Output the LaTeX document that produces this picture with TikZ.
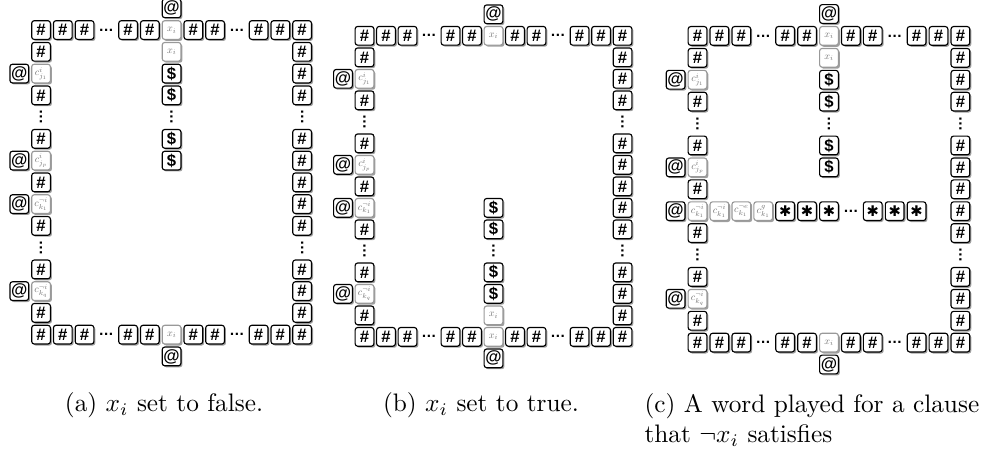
\documentclass[tikz,border=0pt]{standalone}
\usepackage{fontspec}
\newfontfamily\tilefont{Liberation Sans}
\newfontfamily\starfont{DejaVu Sans}
\usepackage{amsmath, amssymb}
\usepackage{tikz}
\usetikzlibrary{shadows, positioning}

\newcommand{\vlab}[1]{\scalebox{0.4}{$#1$}}

\tikzset{
  tile/.style={draw=black, line width=0.45pt, rounded corners=1pt, fill=white,
    minimum size=7.4pt, inner sep=0pt,
    font=\tilefont\bfseries\fontsize{6.6}{6.6}\selectfont,
    drop shadow={shadow xshift=0.6pt, shadow yshift=-0.6pt, opacity=1, fill=gray!75}},
  vartile/.style={tile, draw=gray!80, text=gray!90!black, font=\fontsize{10}{10}\selectfont},
  startile/.style={tile, font=\starfont\bfseries\fontsize{5.8}{5.8}\selectfont},
  hdots/.style={inner sep=0pt, font=\tilefont\bfseries\fontsize{6}{6}\selectfont},
  vdots/.style={hdots, rotate=90},
  subcap/.style={font=\fontsize{10}{12}\selectfont, inner sep=0pt}
}

% frame of one board: top and bottom rows, left and right columns
\newcommand{\drawring}[1]{%
  \foreach \rw/\nm in {1/top,15/bot}{
    \foreach \c in {1,2,3,5,6,8,9,11,12,13}
      \node[tile] (#1-\nm-\c) at (\c,\rw) {\#};
    \foreach \c in {4,10}
      \node[hdots] (#1-\nm-\c) at (\c,\rw) {…};
    \node[vartile] (#1-\nm-7) at (7,\rw) {\vlab{x_i}};
  }
  \node[tile] (#1-at-top) at (7,0) {@};
  \node[tile] (#1-at-bot) at (7,16) {@};
  \foreach \rw in {2,4,6,8,10,12,14}
    \node[tile] (#1-l-\rw) at (1,\rw) {\#};
  \foreach \rw in {2,3,4,6,7,8,9,10,12,13,14}
    \node[tile] (#1-r-\rw) at (13,\rw) {\#};
  \foreach \rw in {5,11}{
    \node[vdots] (#1-l-\rw) at (1,\rw) {…};
    \node[vdots] (#1-r-\rw) at (13,\rw) {…};
  }
  \foreach \rw in {3,7,9,13}
    \node[tile] (#1-at-\rw) at (0,\rw) {@};
  \node[vartile] (#1-l-3) at (1,3) {\vlab{c^{i}_{j_1}}};
  \node[vartile] (#1-l-7) at (1,7) {\vlab{c^{i}_{j_p}}};
  \node[vartile] (#1-l-9) at (1,9) {\vlab{c^{\neg i}_{k_1}}};
  \node[vartile] (#1-l-13) at (1,13) {\vlab{c^{\neg i}_{k_q}}};
}

\begin{document}
\begin{tikzpicture}[x=0.3953pt, y=-0.3953pt]
  \useasboundingbox (0,0) rectangle (983,455);

  % (a) false
  \begin{scope}[shift={(19.3,8.3)}, x=8.6pt, y=-8.6pt]
    \drawring{a}
    \node[vartile] (a-m-2) at (7,2) {\vlab{x_i}};
    \foreach \rw in {3,4,6,7}
      \node[tile] (a-m-\rw) at (7,\rw) {\$};
    \node[vdots] (a-m-5) at (7,5) {…};
  \end{scope}

  % (b) true
  \begin{scope}[shift={(343,14.3)}, x=8.5pt, y=-8.5pt]
    \drawring{b}
    \node[vartile] (b-m-14) at (7,14) {\vlab{x_i}};
    \foreach \rw in {9,10,12,13}
      \node[tile] (b-m-\rw) at (7,\rw) {\$};
    \node[vdots] (b-m-11) at (7,11) {…};
  \end{scope}

  % (c) word for a clause
  \begin{scope}[shift={(675.6,14)}, x=8.66pt, y=-8.66pt]
    \drawring{c}
    \node[vartile] (c-m-2) at (7,2) {\vlab{x_i}};
    \foreach \rw in {3,4,6,7}
      \node[tile] (c-m-\rw) at (7,\rw) {\$};
    \node[vdots] (c-m-5) at (7,5) {…};
    \node[vartile] (c-w-2) at (2,9) {\vlab{c^{\neg i}_{k_1}}};
    \node[vartile] (c-w-3) at (3,9) {\vlab{c^{\neg e}_{k_1}}};
    \node[vartile] (c-w-4) at (4,9) {\vlab{c^{g}_{k_1}}};
    \foreach \c in {5,6,7,9,10,11}
      \node[startile] (c-w-\c) at (\c,9) {✱};
    \node[hdots] (c-w-8) at (8,9) {…};
  \end{scope}

  % captions
  \node[subcap] (capa) at (164,405) {(a) $x_i$ set to false.};
  \node[subcap] (capb) at (481,405) {(b) $x_i$ set to true.};
  \node[subcap, anchor=north west, align=left] (capc) at (644,393)
    {(c) A word played for a clause\\that $\neg x_i$ satisfies};
\end{tikzpicture}
\end{document}
